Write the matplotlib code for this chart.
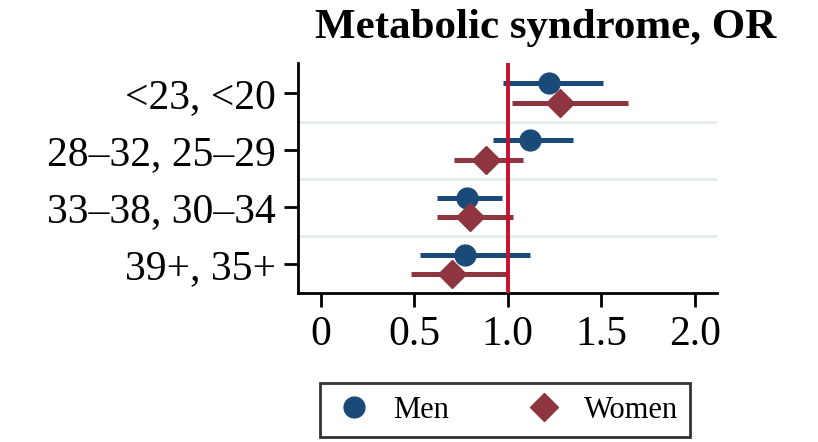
import numpy as np
import matplotlib.pyplot as plt

# data
groups = ["<23, <20", "28\u201332, 25\u201329", "33\u201338, 30\u201334", "39+, 35+"]
men_or = [1.22, 1.12, 0.78, 0.77]
men_lo = [0.975, 0.92, 0.62, 0.53]
men_hi = [1.51, 1.35, 0.97, 1.12]
women_or = [1.28, 0.885, 0.80, 0.70]
women_lo = [1.02, 0.71, 0.62, 0.48]
women_hi = [1.64, 1.08, 1.03, 1.0]
xticks = [0, 0.5, 1.0, 1.5, 2.0]
xticklabels = ["0", "0.5", "1.0", "1.5", "2.0"]

men_col = "#1a4a78"
women_col = "#8e3540"

plt.rcParams['font.family'] = ['Liberation Serif', 'DejaVu Serif']

fig = plt.figure(figsize=(8.18, 4.42), dpi=100)
ax = fig.add_axes([0.364, 0.337, 0.513, 0.52])

y = np.arange(1, len(groups) + 1)
off = 0.17

men_y = y - off
women_y = y + off
ax.hlines(men_y, men_lo, men_hi, color=men_col, lw=3.6, zorder=3)
ax.hlines(women_y, women_lo, women_hi, color=women_col, lw=3.6, zorder=3)
ax.plot(men_or, men_y, 'o', color=men_col, ms=15, ls='', zorder=4, label='Men')
ax.plot(women_or, women_y, 'D', color=women_col, ms=14, ls='', zorder=4, label='Women')

ax.axvline(1.0, color="#c8102e", lw=2.8, zorder=5)
for g in y[:-1] + 0.5:
    ax.axhline(g, color="#e2eeee", lw=2, zorder=1)

ax.set_ylim(4.5, 0.48)
ax.set_xlim(-0.123, 2.12)
ax.set_yticks(y)
ax.set_yticklabels(groups, fontsize=30)
ax.set_xticks(xticks)
ax.set_xticklabels(xticklabels, fontsize=30)
ax.tick_params(length=10, width=2, pad=6)
for s in ['top', 'right']:
    ax.spines[s].set_visible(False)
for s in ['left', 'bottom']:
    ax.spines[s].set_linewidth(2)

fig.text(546 / 818, 1 - 28 / 442, "Metabolic syndrome, OR", fontsize=31,
         fontweight='bold', ha='center', va='center')

leg = fig.legend(loc='center', bbox_to_anchor=(505 / 818, 1 - 410 / 442), ncol=2,
                 fontsize=22, frameon=True, fancybox=False, edgecolor='black',
                 handletextpad=0.6, handlelength=1.4, columnspacing=2.4,
                 borderpad=0.4, markerscale=1.0)
leg.get_frame().set_linewidth(2)

fig.savefig("out.png", dpi=100)
